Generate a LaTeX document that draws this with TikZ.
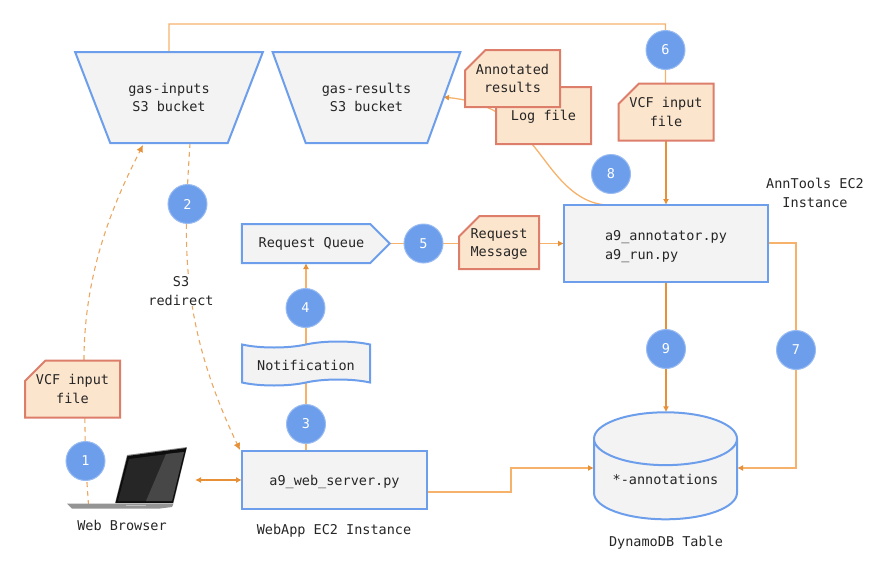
\documentclass[tikz,border=0pt]{standalone}
\usepackage{fontspec}
\setmonofont{DejaVu Sans Mono}
\usetikzlibrary{shapes.geometric,shapes.symbols,shapes.misc,backgrounds,arrows.meta}
\definecolor{boxblue}{HTML}{6D9EEB}
\definecolor{boxgray}{HTML}{F3F3F3}
\definecolor{docfill}{HTML}{FCE5CD}
\definecolor{docline}{HTML}{DD7E6B}
\definecolor{flowlight}{HTML}{F6B26B}
\definecolor{flowdark}{HTML}{E69138}
\newcommand{\lowertext}[2]{\raisebox{-#1}[\height][\depth]{#2}}
\newcommand{\doctext}[1]{\makebox[30pt]{\lowertext{1.5pt}{\begin{tabular}{@{}c@{}}#1\end{tabular}}}}
\tikzset{
  txt/.style={font=\ttfamily\fontsize{13.5}{18.5}\selectfont,text=black!85,align=center,inner sep=0pt},
  blueshape/.style={txt,draw=boxblue,fill=boxgray,line width=2pt,outer sep=0pt},
  bucket/.style={blueshape,trapezium,shape border rotate=180,trapezium left angle=50,trapezium right angle=50,minimum width=188,minimum height=91,trapezium stretches=true},
  bluebox/.style={blueshape,rectangle},
  docnode/.style={txt,chamfered rectangle,chamfered rectangle corners=north west,chamfered rectangle xsep=25,chamfered rectangle ysep=2,draw=docline,fill=docfill,line width=2pt,outer sep=0pt},
  numdot/.style={txt,circle,fill=boxblue,draw=boxblue!70,line width=1pt,minimum size=39,text=white},
  flow/.style={draw=flowlight,line width=1.3pt,-{Latex[length=6pt,width=6pt,flowdark]}},
  flowdk/.style={draw=flowdark,line width=1.2pt,-{Latex[length=6pt,width=6pt]}},
  flowdash/.style={draw=flowdark!80,line width=1.1pt,dashed,dash pattern=on 5pt off 4pt,-{Latex[length=7pt,width=7pt,flowdark]}},
}
\begin{document}
\begin{tikzpicture}[x=1pt,y=-1pt]
  \useasboundingbox (0,0) rectangle (878,562);
  % storage
  \node[bucket] (gasin) at (169,97.5) {gas-inputs\\S3 bucket};
  \node[bucket] (gasout) at (366.5,97.5) {gas-results\\S3 bucket};
  \node[blueshape,cylinder,shape border rotate=90,aspect=0.5,minimum width=143,minimum height=107] (table) at (665.5,479.5) {*-annotations};
  % programs
  \node[bluebox,minimum width=185,minimum height=58] (web) at (334.5,479.5) {\lowertext{2pt}{a9\_web\_server.py}};
  \node[bluebox,minimum width=204,minimum height=77] (annot) at (666,243.5) {\lowertext{3pt}{\begin{tabular}{@{}l@{}}a9\_annotator.py\\a9\_run.py\end{tabular}}};
  \node[blueshape,signal,signal to=east,signal from=nowhere,minimum width=148,minimum height=39] (queue) at (306,243.5) {\hspace*{11pt}Request Queue};
  \node[blueshape,tape,tape bend top=in and out,tape bend bottom=in and out,tape bend height=6pt,minimum width=128,minimum height=44] (notif) at (306,363.5) {\lowertext{2pt}{Notification}};
  % documents
  \node[docnode,minimum width=95,minimum height=57] (vcfa) at (72.5,389) {\doctext{VCF input\\file}};
  \node[docnode,minimum width=95,minimum height=57] (vcfb) at (666,112) {\doctext{VCF input\\file}};
  \node[docnode,minimum width=95,minimum height=57] (logf) at (543.5,115.5) {\doctext{Log file}};
  \node[docnode,minimum width=95,minimum height=57] (annres) at (512.5,78.5) {\doctext{Annotated\\results}};
  \node[docnode,minimum width=80,minimum height=53] (reqm) at (499,242.5) {\doctext{Request\\Message}};
  % numbered steps
  \foreach \n/\x/\y in {1/85.5/461,2/187.5/204,3/306/424,4/305.5/308,5/423.5/243.5,6/665.5/50,7/796/350,8/611/174,9/666/349}
    \node[numdot] (c\n) at (\x,\y) {\n};
  % labels
  \node[txt,fill=white,inner sep=1pt] (redir) at (181,291) {S3\\redirect};
  \node[txt] (lbrowser) at (122,525) {Web Browser};
  \node[txt] (lweb) at (334,530.5) {WebApp EC2 Instance};
  \node[txt] (ltable) at (666,542.5) {DynamoDB Table};
  \node[txt] (lann) at (815,193) {AnnTools EC2\\Instance};
  % laptop
  \fill[black!45] (127,455) -- (187,447) -- (173.5,503) -- (115,503) -- cycle;
  \fill[black!95] (127.5,456) -- (186.5,448) -- (173,503) -- (115.5,503) -- cycle;
  \fill[black!85] (129,459) -- (184,452) -- (172,501) -- (118,501) -- cycle;
  \fill[black!72] (166,454) -- (184,452) -- (172,501) -- (146,501) -- cycle;
  \fill[black!42] (67,503.5) -- (173.5,503.5) -- (172,507) -- (160,508.5) -- (72,508.5) -- cycle;
  \fill[black!25] (126,504.5) -- (146,504.5) -- (146,506) -- (126,506) -- cycle;
  \coordinate (laptop) at (195,480);
  \coordinate (kbd) at (88.5,505);
  % connectors
  \begin{scope}[on background layer]
    \draw[flowdash] (kbd) -- (c1) -- (vcfa.north -| 84,0) .. controls (84,270) and (115,200) .. (143,145);
    \draw[flowdash] (gasin.south -| 190,0) .. controls (184,240) and (178,320) .. (240,450);
    \draw[draw=flowdark,line width=1.3pt,{Latex[length=6pt,width=6pt]}-{Latex[length=6pt,width=6pt]}] (laptop) -- (web.west |- laptop);
    \draw[flow] (web.north -| c3) -- (queue.south -| c3);
    \draw[flow] (queue) -- (annot.west |- queue);
    \draw[flowlight,line width=1.3pt] (gasin.north) -- (169,24) -- (c6 |- 0,24) -- (vcfb.north -| c6);
    \draw[flowdk] (vcfb) -- (annot.north -| vcfb);
    \draw[flowdk] (annot.south -| c9) -- (c9) -- (table.north -| c9);
    \draw[flow] (web.east |- 0,492) -- (511,492) -- (511,468) -- (table.west |- 0,468);
    \draw[flow] (annot.east |- 0,243) -- (796,243) -- (796,468) -- (table.east |- 0,468);
    \draw[flow] (annot.north -| 607,0) .. controls (570,203) and (550,165) .. (532,144) .. controls (510,118) and (490,102) .. (443,97);
  \end{scope}
\end{tikzpicture}
\end{document}
